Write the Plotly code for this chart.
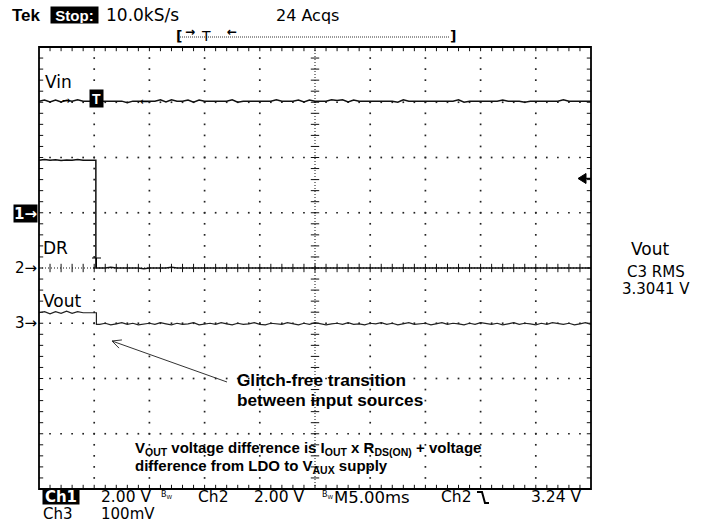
import math
import plotly.graph_objects as go

SAMPLE_MS = 0.5          # acquisition step used for the readings below
TIME_SPAN_MS = 50.0      # 10 div x 5 ms/div
DR_EDGE_MS = 5.15        # DR falling edge (trigger point)
VOUT_EDGE_MS = 5.2       # Vout step

# channel settings (volts/div, marker position in div, offset)
CH1_VPD, CH1_POS = 2.0, 1.0                   # Vin
CH2_VPD, CH2_POS = 2.0, 0.0                   # DR
CH3_VPD, CH3_POS, CH3_OFS = 0.1, -1.0, 3.300  # Vout
TRIG_LEVEL_V = 3.24

VIN_V = [
    4.04, 4.08, 4.01, 4.08, 4.01, 4.07, 4.04, 4.09, 4.04, 4.04,
    4.04, 4.04, 4.04, 4.04, 4.04, 4.04, 3.98, 4.04, 4.04, 4.04,
    4.04, 4.04, 4.09, 4.01, 4.09, 4.04, 4.04, 4.08, 4.00, 4.08,
    4.04, 4.04, 4.04, 4.04, 4.04, 4.09, 4.00, 4.04, 4.04, 4.04,
    4.04, 4.04, 4.04, 4.09, 4.04, 4.04, 4.04, 4.08, 4.01, 4.08,
    4.04, 4.04, 4.04, 4.09, 4.06, 4.09, 4.01, 4.08, 4.04, 4.04,
    4.04, 4.04, 4.04, 4.04, 4.04, 4.00, 4.09, 4.04, 4.04, 4.04,
    4.04, 4.04, 4.04, 4.04, 4.04, 4.04, 4.09, 4.00, 4.04, 4.04,
    4.04, 4.04, 4.04, 4.04, 4.08, 4.04, 4.04, 4.04, 4.00, 4.04,
    4.04, 4.04, 4.04, 4.04, 4.04, 4.09, 4.04, 4.04, 4.04, 4.04,
    4.04,
]

DR_BEFORE_V = [3.90, 3.93, 3.90, 3.92, 3.89, 3.91, 3.90, 3.93, 3.90, 3.90, 3.90]
DR_AFTER_V = [
    0.00, 0.00, 0.03, 0.00, 0.00, 0.00, 0.00, 0.00, -0.03, 0.00,
    0.00, 0.00, 0.00, 0.03, 0.00, 0.00, 0.00, 0.00, 0.00, 0.00,
    0.02, 0.00, 0.00, 0.00, 0.00, 0.00, 0.00, 0.00, 0.00, 0.00,
    0.00, 0.00, 0.00, 0.00, 0.02, 0.00, 0.00, 0.00, 0.00, 0.00,
    0.00, 0.00, 0.00, 0.00, 0.00, 0.00, 0.00, 0.00, 0.00, 0.00,
    0.00, 0.00, 0.00, 0.00, 0.00, 0.00, 0.00, 0.00, 0.00, 0.00,
    0.00, 0.00, 0.00, 0.00, 0.00, 0.00, 0.00, 0.00, 0.00, 0.00,
    0.00, 0.00, 0.00, 0.00, 0.00, 0.00, 0.00, 0.00, 0.00, 0.00,
    0.00, 0.00, 0.00, 0.00, 0.00, 0.00, 0.00, 0.00, 0.00, 0.00,
    0.00, 0.00,
]

# Vout readings in mV above the 3.300 V channel offset
VOUT_BEFORE_MV = [19, 21, 17, 21, 18, 22, 18, 21, 19, 19, 19]
VOUT_AFTER_MV = [
    -2, 0, -3, -1, 1, -2, 0, -3, -1, 0,
    -2, 1, -1, -3, 0, -2, -1, 1, -3, -1,
    0, -2, 1, -1, -3, 0, -2, -1, 1, -2,
    -3, 0, -1, -2, 1, -1, -3, 0, -2, 1,
    -1, -3, -1, 0, -2, 1, -2, -1, -3, 0,
    -1, 1, -2, 0, -3, -1, 1, -2, -1, 0,
    -3, -1, 1, -2, 0, -1, -3, 0, -2, 1,
    -1, -2, 0, -3, -1, 1, -2, 0, -1, -3,
    0, -2, 1, -1, -2, 0, -3, -1, 1, -2,
    -1, 0,
]

# ---------------- helpers ----------------
W, H = 712, 522
PX0, PX1, PY0, PY1 = 39, 591, 47, 489   # plot area in pixels
DIV_PX = (PY1 - PY0) / 8.0


def px(x):
    return (x - PX0) / (PX1 - PX0)


def py(y):
    return (PY1 - y) / (PY1 - PY0)


def times(start, n):
    return [start + SAMPLE_MS * i for i in range(n)]


def ch1(v):
    return CH1_POS + v / CH1_VPD


def ch2(v):
    return CH2_POS + v / CH2_VPD


def ch3_mv(mv):
    return CH3_POS + (mv / 1000.0) / CH3_VPD


# ---------------- traces ----------------
vin_t = times(0.0, len(VIN_V))
vin_y = [ch1(v) for v in VIN_V]

drb_t = times(0.0, len(DR_BEFORE_V))
dra_t = times(5.5, len(DR_AFTER_V))
dr_t = drb_t + [DR_EDGE_MS, DR_EDGE_MS] + dra_t
dr_y = ([ch2(v) for v in DR_BEFORE_V] + [ch2(DR_BEFORE_V[-1]), ch2(DR_AFTER_V[0])]
        + [ch2(v) for v in DR_AFTER_V])

vb_t = times(0.0, len(VOUT_BEFORE_MV))
va_t = times(5.5, len(VOUT_AFTER_MV))
vo_t = vb_t + [VOUT_EDGE_MS, VOUT_EDGE_MS] + va_t
vo_y = ([ch3_mv(v) for v in VOUT_BEFORE_MV]
        + [ch3_mv(VOUT_BEFORE_MV[-1]), ch3_mv(VOUT_AFTER_MV[0])]
        + [ch3_mv(v) for v in VOUT_AFTER_MV])

fig = go.Figure()

# ---------------- graticule ----------------
gx, gy = [], []
for k in range(1, 10):
    if k == 5:
        continue
    for j in range(1, 40):
        gx.append(5.0 * k)
        gy.append(-4 + 0.2 * j)
for m in (-3, -2, -1, 1, 2, 3):
    for j in range(1, 50):
        gx.append(1.0 * j)
        gy.append(m)
fig.add_trace(go.Scatter(x=gx, y=gy, mode="markers", hoverinfo="skip",
                         marker=dict(symbol="square", size=1.7, color="#222",
                                     line=dict(width=0))))

# ticks on centre lines and on the frame (clipped to the frame -> inward)
tx = [25.0] * 39 + [0.0] * 39 + [50.0] * 39
ty = [-4 + 0.2 * j for j in range(1, 40)] * 3
fig.add_trace(go.Scatter(x=tx, y=ty, mode="markers", hoverinfo="skip",
                         marker=dict(symbol="line-ew-open", size=6, color="#111",
                                     line=dict(width=1, color="#111"))))
hx = [1.0 * j for j in range(1, 50)] * 3
hy = [0.0] * 49 + [4.0] * 49 + [-4.0] * 49
fig.add_trace(go.Scatter(x=hx, y=hy, mode="markers", hoverinfo="skip",
                         marker=dict(symbol="line-ns-open", size=6, color="#111",
                                     line=dict(width=1, color="#111"))))

# ---------------- waveforms ----------------
line_style = dict(color="#111", width=1.5)
fig.add_trace(go.Scatter(x=vin_t, y=vin_y, mode="lines", line=line_style, hoverinfo="skip"))
fig.add_trace(go.Scatter(x=dr_t, y=dr_y, mode="lines", line=line_style, hoverinfo="skip"))
fig.add_trace(go.Scatter(x=vo_t, y=vo_y, mode="lines", line=dict(color="#222", width=1.2),
                         hoverinfo="skip"))

shapes = []
# frame
shapes.append(dict(type="rect", xref="paper", yref="paper", x0=0, x1=1, y0=0, y1=1,
                   line=dict(color="black", width=1.8)))
# dense dotted centre lines
shapes.append(dict(type="line", xref="x", yref="paper", x0=25, x1=25, y0=0, y1=1,
                   line=dict(color="#111", width=1, dash="1px,2px")))
shapes.append(dict(type="line", xref="paper", yref="y", x0=0, x1=1, y0=0, y1=0,
                   line=dict(color="#111", width=1, dash="1px,2px")))

# trigger level marker on the right edge
tl_px = PY0 + (4 - ch2(TRIG_LEVEL_V)) * DIV_PX
shapes.append(dict(type="path", xref="paper", yref="paper",
                   path=f"M {px(578)} {py(tl_px)} L {px(586)} {py(tl_px - 5)} "
                        f"L {px(586)} {py(tl_px + 5)} Z",
                   fillcolor="black", line=dict(color="black", width=1)))
shapes.append(dict(type="line", xref="paper", yref="paper",
                   x0=px(586), x1=px(591), y0=py(tl_px), y1=py(tl_px),
                   line=dict(color="black", width=1.5)))

# small trigger tee on DR trace
shapes.append(dict(type="line", xref="paper", yref="paper", x0=px(92), x1=px(101),
                   y0=py(258), y1=py(258), line=dict(color="black", width=1)))
shapes.append(dict(type="line", xref="paper", yref="paper", x0=px(96.5), x1=px(96.5),
                   y0=py(258), y1=py(268), line=dict(color="black", width=1)))

# callout arrow
hx0, hy0, tx0, ty0 = 112, 341, 227, 382
ang = math.atan2(ty0 - hy0, tx0 - hx0)
shapes.append(dict(type="line", xref="paper", yref="paper", x0=px(hx0), y0=py(hy0),
                   x1=px(tx0), y1=py(ty0), line=dict(color="#333", width=1)))
for d in (0.45, -0.45):
    shapes.append(dict(type="line", xref="paper", yref="paper", x0=px(hx0), y0=py(hy0),
                       x1=px(hx0 + 10 * math.cos(ang + d)), y1=py(hy0 + 10 * math.sin(ang + d)),
                       line=dict(color="#333", width=1)))

# record-length bar dotted line
shapes.append(dict(type="line", xref="paper", yref="paper", x0=px(180), x1=px(450),
                   y0=py(37), y1=py(37), line=dict(color="#333", width=1, dash="1px,1px")))

# falling-slope glyph in readout
shapes.append(dict(type="path", xref="paper", yref="paper",
                   path=f"M {px(477)} {py(492)} L {px(482)} {py(492)} L {px(485)} {py(503)} "
                        f"L {px(489)} {py(503)}",
                   line=dict(color="black", width=2)))

anns = []


def txt(text, x, y, size=16, family="DejaVu Sans", color="black", anchor="left",
        bg=None, bold=False, w=None, h=None):
    d = dict(text=f"<b>{text}</b>" if bold else text, xref="paper", yref="paper",
             x=px(x), y=py(y), xanchor=anchor, yanchor="middle", showarrow=False,
             font=dict(size=size, family=family, color=color), borderpad=0)
    if bg:
        d["bgcolor"] = bg
    if w:
        d["width"] = w
    if h:
        d["height"] = h
    anns.append(d)


# header
txt("Tek", 11, 15, size=17, family="Liberation Sans", bold=True)
txt("Stop:", 50, 15, size=15, family="Liberation Sans", color="white", bg="black",
    bold=True, w=47, h=16)
txt("10.0kS/s", 105, 15, size=17)
txt("24 Acqs", 275, 15, size=16)
txt("[", 175, 36, size=14, bold=True)
txt("→", 184, 32, size=12, bold=True)
txt("T", 200, 36, size=14)
txt("←", 226, 32, size=12, bold=True)
txt("]", 449, 36, size=14, bold=True)

# in-screen labels
txt("Vin", 44, 82, size=17)
txt("DR", 42, 248, size=17)
txt("Vout", 42, 301, size=17)
txt("T", 89, 98.5, size=14, family="Liberation Sans", color="white", bg="black",
    bold=True, w=13, h=17)
txt("→", 61, 100, size=10, bold=True)
txt("←", 139, 101, size=10, bold=True)

# channel markers
txt("1→", 38, 213, size=15, color="white", bg="black", anchor="right", bold=True, h=17)
txt("2→", 38, 268, size=15, anchor="right")
txt("3→", 38, 323, size=15, anchor="right")

# right-hand measurement
txt("Vout", 650, 249, size=17, anchor="center")
txt("C3 RMS", 656, 272, size=15, anchor="center")
txt("3.3041 V", 656, 289, size=15, anchor="center")

# callouts
txt("Glitch-free transition", 236, 380, size=17.2, family="Liberation Sans", bold=True)
txt("between input sources", 236, 400, size=17.2, family="Liberation Sans", bold=True)
txt("V<sub>OUT</sub> voltage difference is I<sub>OUT</sub> x R<sub>DS(ON)</sub> + voltage",
    134, 448, size=15, family="Liberation Sans", bold=True)
txt("difference from LDO to V<sub>AUX</sub> supply", 134, 466, size=15,
    family="Liberation Sans", bold=True)

# bottom readout
txt("Ch1", 42, 497, size=15, color="white", bg="black", bold=True, w=36, h=14)
txt("2.00 V", 100, 497, size=15.5)
txt("B<sub>W</sub>", 160, 495, size=8)
txt("Ch2", 197, 497, size=15.5)
txt("2.00 V", 253, 497, size=15.5)
txt("B<sub>W</sub>", 321, 495, size=8)
txt("M5.00ms", 333, 497, size=16.5)
txt("Ch2", 440, 497, size=15.5)
txt("3.24 V", 530, 497, size=15.5)
txt("Ch3", 42, 514, size=15)
txt("100mV", 100, 514, size=15)

fig.update_layout(
    width=W, height=H,
    margin=dict(l=PX0, r=W - PX1, t=PY0, b=H - PY1, pad=0),
    paper_bgcolor="white", plot_bgcolor="white",
    showlegend=False,
    xaxis=dict(range=[0, TIME_SPAN_MS], visible=False, fixedrange=True),
    yaxis=dict(range=[-4, 4], visible=False, fixedrange=True),
    shapes=shapes, annotations=anns,
    font=dict(family="DejaVu Sans", color="black"),
)

fig.write_html("out.html")
